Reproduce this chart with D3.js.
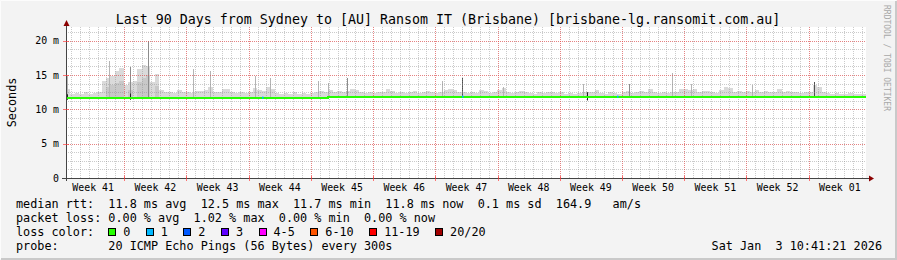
<!DOCTYPE html>
<html>
<head>
<meta charset="utf-8">
<script src="https://cdn.jsdelivr.net/npm/d3@7"></script>
<style>
body { margin: 0; background: #f3f3f3; }
text { font-family: "DejaVu Sans Mono", monospace; white-space: pre; }
</style>
</head>
<body>
<div id="chart"></div>
<script>
const title = "Last 90 Days from Sydney to [AU] Ransom IT (Brisbane) [brisbane-lg.ransomit.com.au]";
const yTicks = [0, 5, 10, 15, 20];
const yTickLabels = ["0", "5 m", "10 m", "15 m", "20 m"];
const startTime = Date.UTC(2025, 9, 5, 10, 41, 21);
const endTime = Date.UTC(2026, 0, 3, 10, 41, 21);

// top of the smoke, one value per half day (ms)
const smokeTop = [
    13.0, 12.3, 12.4, 12.2, 12.5, 12.3, 12.4, 12.6,
    14.2, 14.6, 14.8, 15.6, 16.0, 13.5, 14.0,
    14.2, 15.9, 16.5, 16.3, 14.0, 15.1, 12.8,
    12.6, 12.5, 12.4, 12.8, 12.5, 12.6, 12.4, 12.7,
    12.7, 12.8, 13.2, 12.6, 12.5, 13.0, 12.9, 12.5, 12.4, 12.5,
    12.4, 12.5, 13.1, 12.8, 12.7, 13.2, 13.0, 12.4, 12.3, 12.4,
    12.3, 12.5, 12.3, 12.4, 12.3, 12.4, 12.6, 12.7, 12.6, 12.8,
    12.6, 12.7,
    12.6, 12.7, 12.9, 12.8, 12.6, 12.4, 12.5, 12.4,
    12.5, 12.5, 12.9, 12.7, 12.4, 12.5, 12.4, 12.6, 12.7, 12.4,
    12.5, 12.7, 12.6, 12.4, 12.6, 12.8, 12.9, 12.8, 12.6, 12.5,
    12.4, 12.5,
    12.4, 12.8, 12.7, 12.4, 12.5, 12.8, 13.1, 12.6,
    12.4, 12.6, 12.7, 12.6, 12.4, 12.3, 12.5, 12.4, 12.6, 12.5,
    12.4, 12.6, 12.3, 12.4, 12.3, 12.4, 12.6, 12.5, 12.6, 12.8,
    12.4, 12.3,
    12.5, 12.4, 12.3, 12.5, 12.7, 12.4, 12.6, 12.7,
    12.5, 12.9, 12.6, 12.4, 12.5, 12.4, 12.6, 12.5, 12.9, 13.0,
    12.8, 12.9, 12.5, 12.7, 12.7, 12.6, 12.4, 12.8, 13.2, 13.1,
    12.6, 12.7,
    12.6, 12.7, 12.6, 12.8, 12.5, 12.7, 12.6, 12.5,
    12.9, 12.6, 12.7, 12.5, 12.6, 12.4, 12.5, 12.6, 13.5, 13.2,
    12.6, 12.4, 12.3, 12.4, 12.3, 12.3, 12.4, 12.3, 12.3, 12.2
];
// denser part of the smoke (half-day bin index, ms)
const midBin = [9, 10, 11, 12, 14, 16, 17, 18, 20];
const midMs = [13.2, 13.5, 13.8, 14.2, 12.8, 14.0, 14.6, 15.0, 13.4];

// single tall samples (day offset, ms, shade)
const spikeDay = [0.1, 4.84, 7.2, 9.19, 14.3, 16.2, 21.3, 22.96, 28.4, 29.5, 31.58, 42.25, 44.6, 49.2, 58.2, 63.34, 68.22, 70.28, 77.2, 84.13];
const spikeMs = [14.9, 17.0, 16.2, 20.0, 15.9, 15.6, 14.8, 14.5, 14.2, 13.9, 14.5, 14.1, 14.6, 13.2, 13.7, 13.7, 15.3, 13.7, 13.6, 14.0];
const spikeShade = [1, 1, 2, 2, 1, 1, 1, 1, 1, 1, 2, 1, 3, 1, 1, 2, 1, 1, 1, 3];

const darkDay = [0.1, 7.2, 58.57];
const darkLow = [11.4, 11.4, 11.3];
const darkHigh = [12.2, 12.3, 12.5];

const medianDay = [0, 29.5, 90];
const medianMs = [11.7, 11.85, 11.85];
const lossDay = [22.06, 44.6, 62.0];
const lossLevel = [1, 1, 1];

const lossLabels = ["0", "1", "2", "3", "4-5", "6-10", "11-19", "20/20"];
const lossColors = ["#26ff00", "#00b8ff", "#0059ff", "#5e00ff", "#ff00ff", "#ff5500", "#ff0000", "#a10000"];

const legendRtt = "median rtt:  11.8 ms avg  12.5 ms max  11.7 ms min  11.8 ms now  0.1 ms sd  164.9   am/s";
const legendLoss = "packet loss: 0.00 % avg  1.02 % max  0.00 % min  0.00 % now";
const legendColor = "loss color:";
const legendProbe = "probe:       20 ICMP Echo Pings (56 Bytes) every 300s";
const stamp = "Sat Jan  3 10:41:21 2026";
const sideText = "RRDTOOL / TOBI OETIKER";

const W = 897, H = 260;
const svg = d3.select("#chart").append("svg")
    .attr("width", W).attr("height", H);

svg.append("rect").attr("width", W).attr("height", H).attr("fill", "#f3f3f3");
// 3d frame
svg.append("path").attr("d", `M0.5,${H - 1}V0.5H${W - 1}`).attr("stroke", "#fcfcfc").attr("fill", "none");
svg.append("path").attr("d", `M1,${H - 1}H${W - 1}V1`).attr("stroke", "#c9c9c9").attr("stroke-width", 2).attr("fill", "none");

const start = new Date(startTime), end = new Date(endTime);
const x = d3.scaleUtc().domain([start, end]).range([66, 866]);
const y = d3.scaleLinear().domain([0, 22]).range([178, 27]);
const dayDate = (d) => new Date(startTime + d * 864e5);
const xd = (d) => x(dayDate(d));
const medianAt = (d) => {
    let v = medianMs[0];
    medianDay.forEach((md, i) => { if (d >= md) v = medianMs[i]; });
    return v;
};

svg.append("rect").attr("x", 66).attr("y", 27).attr("width", 800).attr("height", 151).attr("fill", "#ffffff");

// smoke
const smoke = svg.append("g").attr("shape-rendering", "crispEdges");
smoke.selectAll(".s").data(smokeTop).enter().append("rect")
    .attr("x", (d, i) => xd(i * 0.5))
    .attr("width", (d, i) => xd((i + 1) * 0.5) - xd(i * 0.5))
    .attr("y", (d) => y(d))
    .attr("height", (d, i) => Math.max(0, y(medianAt(i * 0.5)) - y(d)))
    .attr("fill", "#dadada");
smoke.selectAll(".m").data(midBin).enter().append("rect")
    .attr("x", (d) => xd(d * 0.5))
    .attr("width", (d) => xd((d + 1) * 0.5) - xd(d * 0.5))
    .attr("y", (d, i) => y(midMs[i]))
    .attr("height", (d, i) => y(medianAt(d * 0.5)) - y(midMs[i]))
    .attr("fill", "#c8c8c8");
const shades = ["", "#b4b4b4", "#8c8c8c", "#505050"];
smoke.selectAll(".k").data(spikeDay).enter().append("rect")
    .attr("x", (d) => Math.round(xd(d)))
    .attr("width", 1)
    .attr("y", (d, i) => y(spikeMs[i]))
    .attr("height", (d, i) => y(medianAt(d)) - y(spikeMs[i]))
    .attr("fill", (d, i) => shades[spikeShade[i]]);

// grid
const grid = svg.append("g").attr("shape-rendering", "crispEdges");
const hMinor = d3.range(0, 22.01, 1.25);
grid.selectAll(".hm").data(hMinor).enter().append("line")
    .attr("x1", 66).attr("x2", 866)
    .attr("y1", (d) => Math.round(y(d)) + 0.5).attr("y2", (d) => Math.round(y(d)) + 0.5)
    .attr("stroke", "rgba(140,140,140,0.45)").attr("stroke-dasharray", "1,1");
const days = d3.utcDay.range(start, end);
grid.selectAll(".vm").data(days).enter().append("line")
    .attr("x1", (d) => Math.round(x(d)) + 0.5).attr("x2", (d) => Math.round(x(d)) + 0.5)
    .attr("y1", 27).attr("y2", 178)
    .attr("stroke", "rgba(140,140,140,0.45)").attr("stroke-dasharray", "1,1");
grid.selectAll(".hM").data(yTicks.slice(1)).enter().append("line")
    .attr("x1", 66).attr("x2", 866)
    .attr("y1", (d) => Math.round(y(d)) + 0.5).attr("y2", (d) => Math.round(y(d)) + 0.5)
    .attr("stroke", "rgba(255,60,60,0.5)").attr("stroke-dasharray", "1,1");
const weeks = d3.utcSunday.range(start, end);
grid.selectAll(".vM").data(weeks).enter().append("line")
    .attr("x1", (d) => Math.round(x(d)) + 0.5).attr("x2", (d) => Math.round(x(d)) + 0.5)
    .attr("y1", 27).attr("y2", 178)
    .attr("stroke", "rgba(255,60,60,0.5)").attr("stroke-dasharray", "1,1");

// dark marks near the median
svg.selectAll(".dk").data(darkDay).enter().append("rect")
    .attr("x", (d) => Math.round(xd(d)))
    .attr("width", 1)
    .attr("y", (d, i) => y(darkHigh[i]))
    .attr("height", (d, i) => y(darkLow[i]) - y(darkHigh[i]))
    .attr("fill", "#222");

// median line
const medianLine = d3.line()
    .x((d) => xd(d))
    .y((d, i) => y(medianMs[i]))
    .curve(d3.curveStepAfter);
svg.append("path").datum(medianDay)
    .attr("d", medianLine)
    .attr("fill", "none").attr("stroke", lossColors[0]).attr("stroke-width", 2)
    .attr("shape-rendering", "crispEdges");
svg.selectAll(".loss").data(lossDay).enter().append("rect")
    .attr("x", (d) => Math.round(xd(d)))
    .attr("width", 1.5)
    .attr("y", (d) => y(medianAt(d)) - 1)
    .attr("height", 2)
    .attr("fill", (d, i) => lossColors[lossLevel[i]]);

// axes
const axisCol = "#444";
svg.append("line").attr("x1", 62).attr("x2", 871).attr("y1", 178.5).attr("y2", 178.5).attr("stroke", axisCol);
svg.append("line").attr("x1", 66.5).attr("x2", 66.5).attr("y1", 24).attr("y2", 181).attr("stroke", axisCol);
svg.append("path").attr("d", "M869,175.5L874,178.5L869,181.5Z").attr("fill", "#8b0000");
svg.append("path").attr("d", "M63.5,26L66.5,20L69.5,26Z").attr("fill", "#8b0000");
svg.selectAll(".xt").data(weeks).enter().append("line")
    .attr("x1", (d) => Math.round(x(d)) + 0.5).attr("x2", (d) => Math.round(x(d)) + 0.5)
    .attr("y1", 176).attr("y2", 181).attr("stroke", "rgba(255,60,60,0.7)");
svg.selectAll(".yt").data(yTicks.slice(1)).enter().append("line")
    .attr("x1", 63).attr("x2", 69)
    .attr("y1", (d) => Math.round(y(d)) + 0.5).attr("y2", (d) => Math.round(y(d)) + 0.5)
    .attr("stroke", "rgba(255,60,60,0.7)");

svg.selectAll(".yl").data(yTicks).enter().append("text")
    .attr("x", 59).attr("y", (d) => y(d) + 3.5)
    .attr("text-anchor", "end").attr("font-size", "9.9px").attr("fill", "#000")
    .text((d, i) => yTickLabels[i]);

const fmtWeek = d3.utcFormat("Week %V");
const weekMids = d3.utcSunday.range(new Date(startTime - 7 * 864e5), end)
    .map((s) => new Date(+s + 3.5 * 864e5))
    .filter((m) => m >= start && m <= end);
svg.selectAll(".xl").data(weekMids).enter().append("text")
    .attr("x", (d) => x(d)).attr("y", 190.5)
    .attr("text-anchor", "middle").attr("font-size", "9.9px").attr("fill", "#000")
    .text((d) => fmtWeek(d));

svg.append("text").attr("x", 448).attr("y", 23.5).attr("text-anchor", "middle")
    .attr("font-size", "13.3px").attr("fill", "#000").text(title);

svg.append("text").attr("transform", "translate(15.5,102.5) rotate(-90)")
    .attr("text-anchor", "middle").attr("font-size", "11.8px").attr("fill", "#000").text("Seconds");

svg.append("text").attr("transform", "translate(884,58) rotate(90)")
    .attr("text-anchor", "middle").attr("font-size", "8px").attr("fill", "#a8a8a8").text(sideText);

// legend
const cw = 7.09;
const legend = svg.append("g").attr("font-size", "11.8px").attr("fill", "#000");
legend.append("text").attr("x", 16).attr("y", 207.5).text(legendRtt);
legend.append("text").attr("x", 16).attr("y", 221.5).text(legendLoss);
legend.append("text").attr("x", 16).attr("y", 235.5).text(legendColor);
legend.append("text").attr("x", 16).attr("y", 249.5).text(legendProbe);
legend.append("text").attr("x", 882).attr("y", 249.5).attr("text-anchor", "end").text(stamp);

let bx = 16 + 13 * cw;
lossLabels.forEach((lab, i) => {
    legend.append("rect")
        .attr("x", Math.round(bx) + 0.5).attr("y", 228.5).attr("width", 7).attr("height", 7)
        .attr("fill", lossColors[i]).attr("stroke", "#000");
    legend.append("text").attr("x", bx + 15).attr("y", 235.5).text(lab);
    bx += 15 + lab.length * cw + 15.5;
});
</script>
</body>
</html>
